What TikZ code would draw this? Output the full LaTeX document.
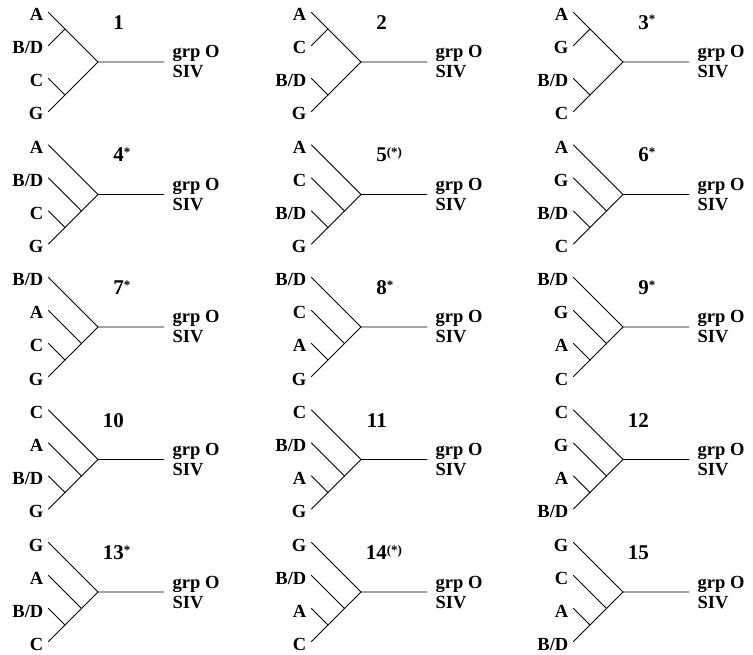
\documentclass[tikz,border=0pt]{standalone}
\usepackage{fontspec}
\setmainfont{Liberation Serif}
\newcommand\labfont{\fontsize{18.5}{19}\selectfont\bfseries}
\newcommand\numfont{\fontsize{21}{22}\selectfont\bfseries}
\newcommand\sups[1]{\rlap{\raisebox{5.5pt}{\fontsize{13}{13}\selectfont\bfseries #1}}}
\tikzset{
  br/.style={line width=0.8pt, line cap=round},
  tiplab/.style={anchor=base east, inner sep=0pt, font=\labfont},
  numlab/.style={anchor=base east, inner sep=0pt, font=\numfont},
  oglab/.style={anchor=base west, inner sep=0pt, font=\labfont}
}
% common parts: tips, labels, outgroup
\newcommand\treecommon[7]{% #1 id, #2 number, #3-#6 leaves, #7 unused
  \coordinate (#1r) at (0,0);
  \coordinate (#1t1) at (-49.5,-49.5);
  \coordinate (#1t2) at (-49.5,-16.5);
  \coordinate (#1t3) at (-49.5,16.5);
  \coordinate (#1t4) at (-49.5,49.5);
  \coordinate (#1o) at (66,0);
  \node[tiplab] (#1l1) at (-54.5,-41) {#3};
  \node[tiplab] (#1l2) at (-54.5,-8) {#4};
  \node[tiplab] (#1l3) at (-54.5,25) {#5};
  \node[tiplab] (#1l4) at (-54.5,58) {#6};
  \node[numlab] (#1num) at (26,-32.5) {#2};
  \node[oglab] (#1g1) at (74.5,-4) {grp O};
  \node[oglab] (#1g2) at (74.5,16) {SIV};
}
\newcommand\baltree[8]{% #1 id, #2 x, #3 y, #4 number, #5-#8 leaves
\begin{scope}[shift={(#2,#3)}]
  \treecommon{#1}{#4}{#5}{#6}{#7}{#8}{}
  \coordinate (#1n12) at (-33,-33);
  \coordinate (#1n34) at (-33,33);
  \draw[br] (#1t1) -- (#1n12) -- (#1r);
  \draw[br] (#1t2) -- (#1n12);
  \draw[br] (#1t3) -- (#1n34);
  \draw[br] (#1t4) -- (#1n34) -- (#1r) -- (#1o);
\end{scope}}
\newcommand\cattree[8]{% #1 id, #2 x, #3 y, #4 number, #5-#8 leaves
\begin{scope}[shift={(#2,#3)}]
  \treecommon{#1}{#4}{#5}{#6}{#7}{#8}{}
  \coordinate (#1n34) at (-33,33);
  \coordinate (#1n234) at (-16.5,16.5);
  \draw[br] (#1t1) -- (#1r);
  \draw[br] (#1t2) -- (#1n234);
  \draw[br] (#1t3) -- (#1n34);
  \draw[br] (#1t4) -- (#1n34) -- (#1n234) -- (#1r) -- (#1o);
\end{scope}}
\begin{document}
\begin{tikzpicture}[x=1pt,y=-1pt]
\useasboundingbox (0,0) rectangle (753,655);
\baltree{a}{98}{62}{1}{A}{B/D}{C}{G}
\baltree{b}{361}{62}{2}{A}{C}{B/D}{G}
\baltree{c}{623}{62}{3\sups{*}}{A}{G}{B/D}{C}
\cattree{d}{98}{194.5}{4\sups{*}}{A}{B/D}{C}{G}
\cattree{e}{361}{194.5}{5\sups{(*)}}{A}{C}{B/D}{G}
\cattree{f}{623}{194.5}{6\sups{*}}{A}{G}{B/D}{C}
\cattree{g}{98}{327}{7\sups{*}}{B/D}{A}{C}{G}
\cattree{h}{361}{327}{8\sups{*}}{B/D}{C}{A}{G}
\cattree{i}{623}{327}{9\sups{*}}{B/D}{G}{A}{C}
\cattree{j}{98}{459.5}{10}{C}{A}{B/D}{G}
\cattree{k}{361}{459.5}{11}{C}{B/D}{A}{G}
\cattree{l}{623}{459.5}{12}{C}{G}{A}{B/D}
\cattree{m}{98}{592}{13\sups{*}}{G}{A}{B/D}{C}
\cattree{n}{361}{592}{14\sups{(*)}}{G}{B/D}{A}{C}
\cattree{o}{623}{592}{15}{G}{C}{A}{B/D}
\end{tikzpicture}
\end{document}
